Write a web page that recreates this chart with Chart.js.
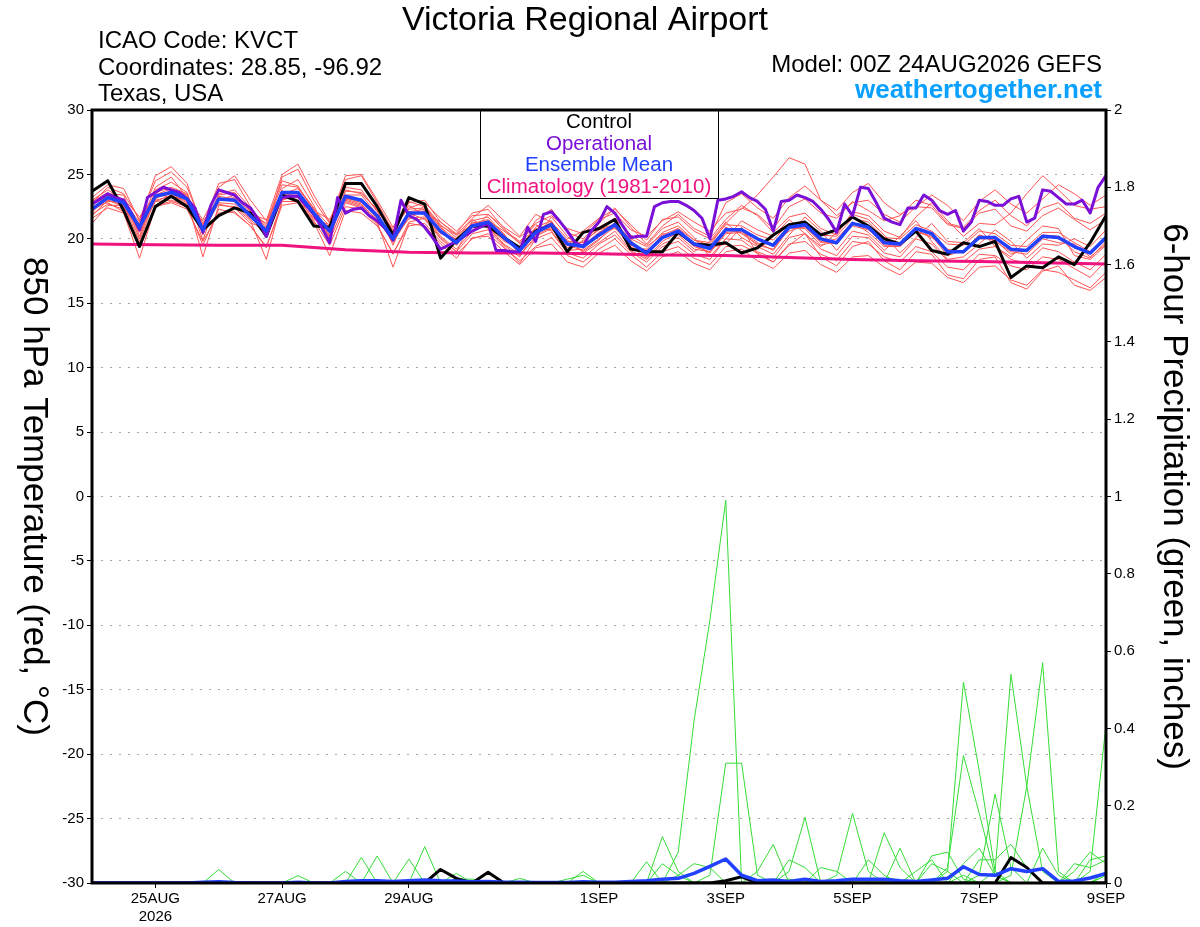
<!DOCTYPE html>
<html>
<head>
<meta charset="utf-8">
<title>Victoria Regional Airport - GEFS 850 hPa Temperature</title>
<script src="https://cdn.jsdelivr.net/npm/chart.js@4.4.1/dist/chart.umd.min.js"></script>
<style>
  html, body { margin: 0; padding: 0; background: #fff; }
  canvas { display: block; }
</style>
</head>
<body>
<canvas id="gefs-chart" width="1200" height="927"></canvas>
<script>
// forecast output every 6 h from 00Z 24AUG2026 (65 steps), operational every 3 h
const ENS_STEP = 6;
const OP_STEP = 3;
const CLIM_STEP = 24;

// x axis ticks (forecast hour) and their labels
const tickHours = [24, 72, 120, 192, 240, 288, 336, 384];
const tickLabels = [['25AUG', '2026'], '27AUG', '29AUG', '1SEP', '3SEP', '5SEP', '7SEP', '9SEP'];

// 850 hPa temperature, deg C
const controlTemp = [23.7,24.5,22.2,19.4,  22.5,23.3,22.5,20.7,  21.8,22.4,22.0,20.2,  23.4,22.9,21.0,20.9,  24.3,24.3,22.5,20.3,  23.2,22.7,18.5,19.9,  21.0,21.0,20.1,19.3,  20.6,21.1,19.0,20.5,  20.8,21.5,19.2,19.0,  19.0,20.5,19.6,19.5,  19.7,18.9,19.3,20.3,  21.1,21.3,20.3,20.7,  21.7,21.0,20.0,19.6,  20.6,19.1,18.8,19.7,  19.4,19.8,17.0,17.9,  17.75,18.6,18.0,19.7,  21.8];
const meanTemp = [22.3,23.2,22.8,20.9,  23.3,23.6,23.1,20.7,  23.1,23.0,21.8,20.6,  23.6,23.6,22.0,20.6,  23.3,23.0,21.8,20.0,  22.0,22.0,20.6,19.7,  21.0,21.3,20.1,19.1,  20.5,21.1,19.6,19.4,  20.3,21.1,19.7,18.9,  20.1,20.6,19.6,19.25,  20.7,20.7,20.0,19.5,  20.9,21.1,20.0,19.7,  21.2,20.9,19.7,19.6,  20.8,20.4,19.0,19.0,  20.1,20.1,19.2,19.1,  20.2,20.1,19.4,18.9,  20.1];
const operationalTemp = [
  22.7,23.1,23.5,23.2,23.0,22.0,20.7,23.2,
  23.6,24.0,23.8,23.6,23.1,22.4,20.5,22.6,
  23.8,23.6,23.4,22.8,22.4,21.5,20.2,22.0,
  23.2,23.3,23.3,22.6,21.9,20.9,19.7,23.2,
  22.0,22.3,22.4,21.8,21.4,20.8,19.9,23.0,
  21.8,21.5,20.9,20.1,19.2,19.5,19.8,20.2,
  20.6,20.9,21.2,19.1,19.1,19.0,19.0,20.9,
  19.8,21.9,22.1,21.4,20.6,19.7,19.4,20.6,
  21.3,22.5,22.0,21.0,20.1,20.2,20.2,22.5,
  22.8,22.9,22.9,22.6,22.2,21.6,20.0,23.0,
  23.1,23.3,23.65,23.2,22.9,22.3,20.6,22.9,
  23.0,23.4,23.2,22.9,22.3,21.5,20.5,22.7,
  21.8,24.0,23.9,22.8,21.6,21.3,21.1,22.4,
  22.4,23.4,23.0,22.2,21.9,22.2,20.6,21.3,
  23.0,22.9,22.6,22.6,23.1,23.3,21.3,21.6,
  23.8,23.7,23.2,22.7,22.7,23.0,22.0,24.0,
  24.9];
const climatologyTemp = [19.6,19.55,19.5,19.5,19.15,18.95,18.9,18.9,18.85,18.75,18.7,18.55,18.4,18.3,18.25,18.15,18.05];

// ensemble members, 850 hPa temperature
const memberTemp01 = [22.8,24.0,23.5,21.5,  24.5,25.2,24.0,21.0,  24.3,24.6,22.5,20.8,  24.8,25.4,23.0,21.2,  24.6,24.9,22.8,20.6,  22.8,23.0,21.3,20.4,  22.0,22.3,20.8,19.6,  21.4,22.3,20.5,20.0,  21.2,22.4,20.9,19.6,  21.0,21.9,20.8,20.2,  22.8,23.5,22.4,21.6,  23.2,24.1,23.0,22.2,  23.6,24.3,22.8,21.9,  22.5,23.4,22.6,21.4,  22.9,23.8,22.7,22.0,  23.1,24.2,23.5,22.6,  23.4];
const memberTemp02 = [21.6,22.4,22.0,18.5,  22.5,22.8,22.3,19.8,  22.0,22.1,21.0,19.4,  22.6,22.8,21.3,18.7,  22.2,22.0,21.0,18.9,  21.0,21.2,19.8,18.8,  20.0,20.4,19.3,18.3,  19.4,20.1,18.7,18.2,  19.2,20.0,18.8,17.8,  19.0,19.4,18.5,18.0,  19.4,19.5,18.9,18.2,  19.6,19.8,18.8,18.3,  19.8,19.6,18.6,18.2,  19.4,19.0,17.8,17.6,  18.8,18.7,17.9,17.6,  18.6,18.4,17.7,17.0,  18.3];
const memberTemp03 = [22.0,23.5,23.4,20.2,  23.8,24.4,23.6,20.3,  23.5,23.8,22.4,21.0,  24.2,24.0,22.4,20.3,  23.8,23.5,22.3,20.6,  22.6,21.8,20.2,19.2,  20.6,21.9,20.7,19.8,  21.1,20.6,19.0,19.9,  20.9,21.6,20.3,19.5,  20.8,21.3,20.1,18.6,  20.0,21.4,20.7,20.2,  21.5,20.4,19.4,20.5,  21.9,21.5,20.3,18.9,  20.1,21.2,19.8,19.7,  20.8,19.4,18.6,19.9,  21.0,20.8,18.7,18.4,  19.5];
const memberTemp04 = [22.5,22.8,22.1,21.2,  22.9,23.0,22.6,21.4,  22.7,22.4,21.2,20.9,  23.1,23.2,21.5,21.1,  22.9,22.5,21.2,20.4,  21.5,22.6,21.1,20.1,  21.5,20.8,19.6,18.8,  20.0,21.7,20.2,18.9,  19.7,20.6,19.1,18.4,  19.6,20.1,19.0,19.8,  21.3,20.1,19.4,18.8,  20.3,21.7,20.6,19.1,  20.6,20.3,19.1,20.2,  21.4,19.8,18.4,18.6,  19.6,20.7,19.8,18.5,  19.6,19.5,20.0,19.4,  20.7];
const memberTemp05 = [23.0,23.8,23.0,20.0,  23.6,24.0,23.5,19.9,  23.4,23.6,22.1,20.1,  23.9,24.6,22.6,20.0,  23.7,23.6,22.2,19.5,  22.3,22.4,20.9,19.5,  21.3,21.0,19.8,19.3,  20.9,21.4,19.3,19.8,  20.7,21.0,19.3,19.2,  20.5,21.0,19.9,19.5,  21.2,22.4,21.9,20.8,  22.5,23.1,22.0,21.6,  22.9,22.2,21.4,21.8,  23.0,22.6,21.2,20.9,  22.2,23.0,21.8,21.0,  22.4,22.8,21.6,21.2,  22.0];
const memberTemp06 = [21.8,23.0,22.5,20.5,  22.9,23.4,22.8,20.5,  22.8,22.7,21.5,20.3,  23.3,23.0,21.6,20.8,  23.0,22.6,21.5,19.8,  21.6,21.7,20.4,20.0,  21.2,21.5,20.4,18.7,  20.2,20.8,19.9,19.0,  19.9,21.3,19.9,18.6,  20.4,20.3,19.2,19.0,  20.9,20.4,19.6,19.6,  20.6,21.0,19.7,20.0,  21.3,20.5,19.4,19.4,  20.6,20.1,19.2,18.9,  20.3,19.8,19.0,18.8,  20.0,19.7,19.6,18.6,  19.6];
const memberTemp07 = [22.9,23.6,22.4,21.0,  24.0,24.8,23.2,21.5,  23.8,23.3,22.0,21.2,  24.5,24.1,22.2,21.5,  24.0,23.8,22.1,20.8,  22.4,22.8,21.6,20.6,  21.8,21.9,20.9,20.1,  21.2,21.8,20.8,20.4,  21.5,22.0,20.7,20.2,  21.4,22.1,21.3,20.6,  22.0,22.3,23.4,24.8,  26.3,25.8,23.0,21.8,  22.8,23.0,21.9,21.3,  22.5,22.4,21.1,20.8,  22.0,22.3,21.0,20.6,  21.8,22.4,21.5,20.7,  21.5];
const memberTemp08 = [22.2,22.9,22.9,20.6,  23.0,23.3,23.0,18.6,  22.6,22.5,21.4,18.4,  23.0,23.4,21.7,19.9,  22.8,22.4,21.3,17.8,  21.2,21.0,19.6,18.5,  20.1,20.2,19.0,18.0,  19.3,19.6,18.2,17.8,  18.9,19.5,18.3,17.5,  18.6,19.0,18.1,17.6,  19.0,19.2,18.3,17.7,  18.9,19.1,18.0,17.4,  18.6,18.7,17.8,17.2,  18.2,18.1,17.0,16.6,  17.8,17.9,16.8,16.4,  17.6,17.4,16.8,16.2,  17.4];
const memberTemp09 = [22.6,23.3,23.1,21.7,  23.4,23.9,23.4,21.2,  23.3,23.1,21.9,21.5,  23.5,23.9,22.3,21.0,  23.4,23.4,21.9,20.2,  22.1,22.3,20.6,19.5,  21.0,21.2,19.9,19.3,  20.6,21.3,19.6,19.5,  20.5,21.2,19.5,19.1,  20.0,20.8,19.6,19.3,  19.6,20.9,18.8,18.2,  19.5,20.4,18.6,17.9,  19.4,19.8,18.3,17.6,  19.0,18.8,17.2,16.9,  18.4,18.6,16.6,16.1,  17.5,17.9,16.4,16.0,  17.0];
const memberTemp10 = [21.2,22.6,22.6,20.9,  23.1,23.8,23.3,20.6,  23.0,23.2,21.8,20.4,  23.7,23.6,22.1,20.5,  23.1,23.1,21.9,19.9,  22.0,21.5,20.0,19.0,  21.4,21.7,20.3,19.0,  20.3,20.9,19.5,19.1,  20.0,20.9,19.4,18.5,  19.8,20.5,19.4,19.0,  20.5,20.6,19.7,19.1,  20.8,20.9,19.8,19.6,  21.2,20.8,19.5,19.5,  20.7,20.5,18.9,19.0,  20.0,20.0,19.1,19.0,  20.3,20.2,19.0,18.5,  19.8];
const memberTemp11 = [22.4,23.0,22.6,19.8,  23.2,23.5,22.9,20.9,  23.0,23.4,22.2,20.5,  23.4,23.5,22.0,20.2,  23.2,22.8,21.6,19.7,  21.8,22.2,20.9,19.9,  20.9,21.0,19.5,18.6,  20.7,21.0,19.1,19.2,  20.5,20.8,19.8,18.9,  20.2,20.6,19.5,18.9,  20.4,20.5,19.5,19.2,  20.9,20.8,19.5,19.8,  21.0,20.7,19.8,19.7,  20.6,20.2,18.7,19.1,  20.3,19.9,18.8,19.2,  20.2,20.0,19.3,18.9,  20.2];
const memberTemp12 = [23.2,24.2,23.9,21.4,  24.9,25.6,24.3,20.8,  24.0,24.9,23.0,21.4,  25.0,25.8,23.4,21.3,  24.9,25.0,23.0,20.9,  22.9,22.5,21.0,20.3,  21.6,22.6,21.4,20.2,  21.9,21.3,20.0,20.6,  21.6,22.3,21.1,19.9,  21.5,21.7,20.6,20.0,  21.5,22.6,21.8,20.5,  21.7,22.0,20.8,20.3,  22.1,21.8,20.6,20.1,  21.7,22.8,21.4,20.2,  21.2,21.1,22.0,23.5,  24.9,23.8,22.6,22.3,  22.5];
const memberTemp13 = [21.9,22.7,22.3,19.3,  22.6,22.9,22.5,19.5,  22.3,22.0,21.0,19.3,  22.9,22.9,21.4,19.5,  22.5,22.3,21.1,18.8,  21.3,21.6,20.1,19.0,  20.4,20.7,19.4,18.1,  20.0,20.5,18.9,18.5,  19.6,20.3,19.0,18.2,  19.4,19.8,18.8,18.4,  20.0,19.9,19.0,18.5,  20.1,20.4,19.2,18.7,  20.2,20.1,18.9,18.6,  20.0,19.6,18.3,18.2,  19.2,19.4,18.4,18.1,  19.3,19.0,18.2,17.6,  18.8];
const memberTemp14 = [22.7,23.4,22.9,21.3,  23.5,23.2,22.7,21.1,  23.2,22.9,21.6,20.7,  23.3,23.3,21.8,20.9,  23.1,22.7,21.4,20.3,  21.9,22.1,21.3,20.3,  21.1,21.4,20.6,19.7,  20.8,20.7,19.8,19.7,  20.8,21.1,20.0,19.4,  20.3,20.8,19.9,19.7,  21.1,21.0,20.3,19.9,  21.2,21.1,20.3,20.2,  21.6,21.3,20.1,20.0,  21.1,20.6,19.6,19.5,  20.6,20.4,19.5,19.4,  20.5,20.5,19.7,19.0,  20.0];
const memberTemps = [memberTemp01, memberTemp02, memberTemp03, memberTemp04, memberTemp05, memberTemp06, memberTemp07,
                     memberTemp08, memberTemp09, memberTemp10, memberTemp11, memberTemp12, memberTemp13, memberTemp14];

// 6-hour precipitation, inches
const controlPrecip = [0,0,0,0,  0,0,0,0,  0,0,0,0,  0,0,0,0,  0,0,0,0,  0,0,0.035,0.012,  0,0.028,0,0,  0,0,0,0,  0,0,0,0,  0,0,0,0,  0.006,0.016,0,0,  0,0,0,0,  0,0,0,0,  0,0,0,0,  0,0,0.066,0.04,  0,0,0,0,  0];
const meanPrecip = [0,0,0,0,  0,0,0,0.002,  0.003,0.001,0,0,  0,0.002,0,0,  0.004,0.006,0.006,0.004,  0.006,0.008,0.006,0.005,  0.003,0.004,0.002,0.002,  0.001,0.001,0.001,0.003,  0.002,0.002,0.004,0.006,  0.01,0.012,0.025,0.043,  0.062,0.02,0.006,0.008,  0.004,0.01,0.004,0.006,  0.01,0.01,0.01,0.006,  0.004,0.008,0.012,0.042,  0.022,0.02,0.037,0.03,  0.037,0.004,0.005,0.013,  0.025];
const memberPrecip01 = [0,0,0,0,  0,0,0,0,  0,0,0,0,  0,0,0,0,  0,0,0,0,  0,0,0,0,  0,0,0,0,  0,0,0,0,  0,0,0,0,  0,0.08,0.42,0.68,  0.99,0,0,0,  0,0,0,0,  0,0,0,0,  0,0,0,0.02,  0,0,0,0,  0,0,0,0,  0];
const memberPrecip02 = [0,0,0,0,  0,0,0,0,  0,0,0,0,  0,0,0,0,  0,0,0,0,  0.062,0,0,0,  0,0,0,0,  0,0,0,0,  0,0,0,0,  0,0,0,0.02,  0.31,0.31,0.02,0,  0,0,0,0,  0,0,0,0,  0,0,0,0,  0,0,0,0,  0,0,0,0,  0];
const memberPrecip03 = [0,0,0,0,  0,0,0,0,  0,0,0,0,  0,0,0,0,  0.03,0,0,0,  0,0,0,0,  0,0,0,0,  0,0,0,0,  0,0,0,0,  0,0,0,0,  0,0,0,0,  0,0,0,0,  0,0,0,0,  0,0,0.03,0.52,  0.29,0.03,0,0,  0,0,0,0,  0];
const memberPrecip04 = [0,0,0,0,  0,0,0,0,  0,0,0,0,  0,0,0,0,  0,0.066,0,0,  0,0,0,0,  0,0,0,0,  0,0,0,0,  0,0,0,0.055,  0,0,0,0,  0,0,0,0,  0,0,0,0,  0,0,0,0,  0,0,0.04,0.33,  0.18,0.02,0,0,  0,0,0,0,  0];
const memberPrecip05 = [0,0,0,0,  0,0,0,0,  0,0,0,0,  0,0,0,0,  0,0,0.07,0,  0,0,0,0,  0,0,0,0,  0,0,0,0,  0,0,0,0,  0.12,0.03,0,0,  0,0,0,0,  0,0,0,0,  0,0,0,0,  0,0,0,0,  0,0.03,0.54,0.25,  0.03,0,0,0,  0];
const memberPrecip06 = [0,0,0,0,  0,0,0,0,  0,0,0,0,  0,0,0,0,  0,0,0,0,  0,0.094,0,0,  0,0,0,0,  0,0,0,0,  0,0,0,0,  0,0,0,0,  0,0,0,0,  0.03,0.17,0,0,  0,0,0,0,  0,0,0,0,  0,0,0.02,0.25,  0.57,0.03,0,0,  0];
const memberPrecip07 = [0,0,0,0,  0,0,0,0,  0.035,0,0,0,  0,0,0,0,  0,0,0,0,  0,0,0,0,  0,0,0,0,  0,0,0,0,  0,0,0,0,  0,0,0,0,  0,0,0,0,  0,0,0,0,  0,0,0,0,  0,0,0,0,  0.02,0.23,0.04,0,  0,0,0,0.03,  0.41];
const memberPrecip08 = [0,0,0,0,  0,0,0,0,  0,0,0,0,  0,0.019,0,0,  0,0,0,0,  0,0,0,0,  0,0,0,0,  0,0,0,0,  0,0,0,0,  0,0,0,0,  0,0,0.03,0.1,  0,0,0,0.02,  0.18,0.03,0,0,  0,0,0,0,  0,0,0,0,  0,0,0,0,  0];
const memberPrecip09 = [0,0,0,0,  0,0,0,0,  0,0,0,0,  0,0,0,0,  0,0,0,0,  0,0,0,0,  0,0,0,0,  0,0,0,0.03,  0,0,0,0,  0,0,0,0,  0,0,0,0,  0,0,0,0,  0,0,0.13,0.04,  0,0,0,0,  0,0,0,0,  0,0,0.03,0.08,  0.05];
const memberPrecip10 = [0,0,0,0,  0,0,0,0,  0,0,0,0,  0,0,0,0,  0,0,0,0,  0,0,0,0.025,  0,0,0,0,  0,0,0,0,  0,0,0,0,  0.05,0.02,0,0,  0,0,0,0,  0,0,0,0,  0,0,0,0.09,  0,0.07,0.08,0.01,  0,0,0,0,  0,0,0,0,  0.02];
const memberPrecip11 = [0,0,0,0,  0,0,0,0,  0,0,0,0,  0,0,0,0,  0,0,0,0,  0,0,0,0,  0,0,0,0.012,  0,0,0,0,  0,0,0,0,  0,0,0,0,  0,0,0,0,  0.06,0.04,0,0,  0,0.06,0.02,0,  0,0,0,0,  0,0,0,0,  0.09,0.02,0,0,  0.02];
const memberPrecip12 = [0,0,0,0,  0,0,0,0,  0,0,0,0,  0,0,0,0,  0,0,0,0,  0,0,0,0.01,  0.01,0,0,0,  0,0,0,0,  0,0,0,0,  0,0,0,0,  0,0,0,0,  0,0,0,0,  0,0,0,0,  0,0.05,0.03,0,  0.06,0.06,0.1,0.04,  0,0,0,0.06,  0.07];
const memberPrecip13 = [0,0,0,0,  0,0,0,0,  0,0,0,0,  0,0,0,0,  0,0,0,0,  0,0,0,0,  0,0,0,0,  0,0,0,0,  0,0,0,0,  0,0.02,0.05,0.04,  0,0,0,0,  0.01,0,0,0,  0,0,0,0,  0.03,0.06,0,0,  0,0,0,0,  0,0,0.05,0.04,  0.06];
const memberPrecip14 = [0,0,0,0,  0,0,0,0,  0,0,0,0,  0,0,0,0,  0,0,0,0,  0,0,0,0,  0,0,0,0,  0,0,0.01,0.02,  0,0,0,0,  0,0,0,0,  0,0,0,0,  0,0,0.04,0.03,  0,0,0,0,  0,0,0,0.05,  0.09,0.02,0,0,  0,0,0,0,  0.03];
const memberPrecips = [memberPrecip01, memberPrecip02, memberPrecip03, memberPrecip04, memberPrecip05, memberPrecip06, memberPrecip07,
                       memberPrecip08, memberPrecip09, memberPrecip10, memberPrecip11, memberPrecip12, memberPrecip13, memberPrecip14];

// colours
const RED = '#ff5454';
const GREEN = '#36dc36';
const BLACK = '#000000';
const PURPLE = '#7a0fd8';
const BLUE = '#2140ff';
const PINK = '#f0127f';

Chart.defaults.font.family = '"Liberation Sans", Arial, Helvetica, sans-serif';
Chart.defaults.color = '#000';

// turn a series into {x: forecast hour, y: value}
function toPoints(values, step) {
    return values.map((v, i) => ({ x: i * step, y: v }));
}

function line(values, step, color, width, axis, order) {
    return {
        data: toPoints(values, step),
        borderColor: color,
        borderWidth: width,
        yAxisID: axis,
        order: order,
        pointRadius: 0,
        fill: false,
        tension: 0,
        borderJoinStyle: width > 1 ? 'round' : 'miter',
    };
}

const datasets = [];
memberTemps.forEach((m) => datasets.push(line(m, ENS_STEP, RED, 1, 'y', 6)));
memberPrecips.forEach((m) => datasets.push(line(m, ENS_STEP, GREEN, 1, 'y1', 5)));
datasets.push(line(climatologyTemp, CLIM_STEP, PINK, 3, 'y', 4));
datasets.push(line(controlTemp, ENS_STEP, BLACK, 3, 'y', 3));
datasets.push(line(controlPrecip, ENS_STEP, BLACK, 3, 'y1', 3));
datasets.push(line(operationalTemp, OP_STEP, PURPLE, 3, 'y', 2));
datasets.push(line(meanTemp, ENS_STEP, BLUE, 3.5, 'y', 1));
datasets.push(line(meanPrecip, ENS_STEP, BLUE, 3.5, 'y1', 1));

const legendItems = [
    ['Control', BLACK],
    ['Operational', PURPLE],
    ['Ensemble Mean', BLUE],
    ['Climatology (1981-2010)', PINK],
];

// header texts, legend box, frame and rotated axis titles
const decorations = {
    id: 'decorations',
    afterDatasetsDraw(chart) {
        const { ctx, chartArea: a } = chart;
        const cx = (a.left + a.right) / 2;
        ctx.save();
        ctx.fillStyle = '#fff';
        ctx.fillRect(cx - 119, a.top, 238, 88);
        ctx.strokeStyle = '#000';
        ctx.lineWidth = 1;
        ctx.strokeRect(cx - 118.5, a.top + 0.5, 238, 88);
        ctx.font = '20.5px "Liberation Sans"';
        ctx.textAlign = 'center';
        ctx.textBaseline = 'alphabetic';
        legendItems.forEach(([t, c], i) => {
            ctx.fillStyle = c;
            ctx.fillText(t, cx, a.top + 18 + i * 21.5);
        });

        // plot frame
        ctx.strokeStyle = '#000';
        ctx.lineWidth = 3;
        ctx.beginPath();
        ctx.moveTo(a.left, a.top);
        ctx.lineTo(a.right, a.top);
        ctx.moveTo(a.left, a.top - 1.5);
        ctx.lineTo(a.left, a.bottom + 1.5);
        ctx.moveTo(a.right, a.top - 1.5);
        ctx.lineTo(a.right, a.bottom + 1.5);
        ctx.moveTo(a.left, a.bottom);
        ctx.lineTo(a.right, a.bottom);
        ctx.stroke();
        ctx.restore();
    },
    afterDraw(chart) {
        const { ctx, chartArea: a } = chart;
        const midY = (a.top + a.bottom) / 2;
        ctx.save();
        ctx.fillStyle = '#000';
        ctx.textBaseline = 'alphabetic';

        ctx.font = '34px "Liberation Sans"';
        ctx.textAlign = 'center';
        ctx.fillText('Victoria Regional Airport', 585, 30);

        ctx.font = '24px "Liberation Sans"';
        ctx.textAlign = 'left';
        ctx.fillText('ICAO Code: KVCT', 98, 48);
        ctx.fillText('Coordinates: 28.85, -96.92', 98, 75);
        ctx.fillText('Texas, USA', 98, 101);

        ctx.textAlign = 'right';
        ctx.fillText('Model: 00Z 24AUG2026 GEFS', 1102, 72);
        ctx.font = 'bold 26px "Liberation Sans"';
        ctx.fillStyle = '#0aa0ff';
        ctx.fillText('weathertogether.net', 1102, 98);

        // axis titles, both read top to bottom
        ctx.fillStyle = '#000';
        ctx.font = '35px "Liberation Sans"';
        ctx.textAlign = 'center';
        ctx.textBaseline = 'middle';
        ctx.save();
        ctx.translate(34, midY);
        ctx.rotate(Math.PI / 2);
        ctx.fillText('850 hPa Temperature (red, \u00B0C)', 0, 0);
        ctx.restore();
        ctx.save();
        ctx.translate(1174, midY);
        ctx.rotate(Math.PI / 2);
        ctx.fillText('6-hour Precipitation (green, inches)', 0, 0);
        ctx.restore();
        ctx.restore();
    },
};

const tickFont = { size: 15 };

const ctx = document.getElementById('gefs-chart').getContext('2d');
const gefsChart = new Chart(ctx, {
    type: 'line',
    data: { datasets: datasets },
    options: {
        responsive: false,
        devicePixelRatio: 1,
        animation: false,
        layout: { padding: { top: 110, left: 0, right: 0, bottom: 0 } },
        plugins: {
            legend: { display: false },
            tooltip: { enabled: false },
        },
        scales: {
            x: {
                type: 'linear',
                min: 0,
                max: 384,
                afterBuildTicks: (s) => { s.ticks = tickHours.map((v) => ({ value: v })); },
                afterFit: (s) => { s.height = 44; },
                ticks: {
                    font: tickFont,
                    padding: 2,
                    maxRotation: 0,
                    autoSkip: false,
                    callback: (v, i) => tickLabels[i],
                },
                grid: { drawOnChartArea: false, tickLength: 5, tickColor: '#000', tickWidth: 1 },
                border: { display: false },
            },
            y: {
                position: 'left',
                min: -30,
                max: 30,
                afterFit: (s) => { s.width = 92; },
                ticks: { stepSize: 5, font: tickFont, padding: 3 },
                grid: { color: '#a8a8a8', lineWidth: 1, tickLength: 5, tickColor: '#000', tickWidth: 1 },
                border: { display: false, dash: [2, 7] },
            },
            y1: {
                position: 'right',
                min: 0,
                max: 2,
                afterFit: (s) => { s.width = 94; },
                ticks: {
                    stepSize: 0.2,
                    font: tickFont,
                    padding: 3,
                    callback: (v) => String(Math.round(v * 10) / 10),
                },
                grid: { drawOnChartArea: false, tickLength: 5, tickColor: '#000', tickWidth: 1 },
                border: { display: false },
            },
        },
    },
    plugins: [decorations],
});
</script>
</body>
</html>
